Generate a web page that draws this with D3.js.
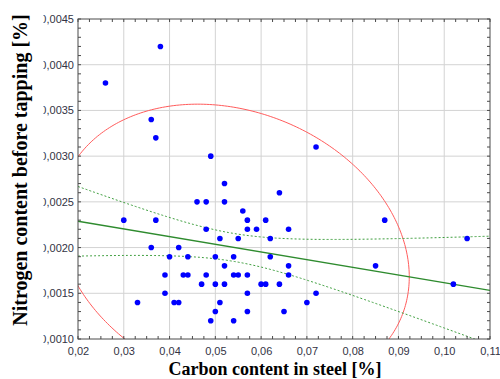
<!DOCTYPE html>
<html>
<head>
<meta charset="utf-8">
<script src="https://cdn.jsdelivr.net/npm/d3@7"></script>
<style>
  body { margin: 0; background: #fff; }
  svg { display: block; }
</style>
</head>
<body>
<div id="chart"></div>
<script>
// carbon content [%] and nitrogen content before tapping [%], one pair per heat
var carbon = [
  0.026, 0.038, 0.036, 0.037, 0.049, 0.052, 0.072, 0.030, 0.037, 0.036,
  0.033, 0.039, 0.039, 0.040, 0.042, 0.041, 0.042, 0.043, 0.044, 0.044,
  0.046, 0.048, 0.048, 0.047, 0.048, 0.049, 0.050, 0.050, 0.050, 0.051,
  0.051, 0.052, 0.052, 0.052, 0.054, 0.054, 0.055, 0.055, 0.054, 0.056,
  0.057, 0.057, 0.057, 0.057, 0.057, 0.064, 0.061, 0.059, 0.066, 0.062,
  0.087, 0.105, 0.062, 0.085, 0.066, 0.066, 0.060, 0.061, 0.064, 0.072,
  0.070, 0.065, 0.102
];
var nitrogen = [
  0.0038, 0.0042, 0.0034, 0.0032, 0.0030, 0.0027, 0.0031, 0.0023, 0.0023, 0.0020,
  0.0014, 0.0017, 0.0015, 0.0019, 0.0020, 0.0014, 0.0014, 0.0017, 0.0017, 0.0019,
  0.0025, 0.0025, 0.0022, 0.0016, 0.0017, 0.0012, 0.0019, 0.0016, 0.0013, 0.0021,
  0.0014, 0.0025, 0.0018, 0.0016, 0.0019, 0.0017, 0.0017, 0.0021, 0.0012, 0.0024,
  0.0023, 0.0022, 0.0017, 0.0015, 0.0013, 0.0026, 0.0023, 0.0022, 0.0022, 0.0021,
  0.0023, 0.0021, 0.0019, 0.0018, 0.0018, 0.0017, 0.0016, 0.0016, 0.0016, 0.0015,
  0.0014, 0.0013, 0.0016
];
var xTicks = [0.02, 0.03, 0.04, 0.05, 0.06, 0.07, 0.08, 0.09, 0.10, 0.11];
var yTicks = [0.0010, 0.0015, 0.0020, 0.0025, 0.0030, 0.0035, 0.0040, 0.0045];

var W = 500, H = 379;
var margin = {top: 19, right: 10, bottom: 40, left: 78};
var width = W - margin.left - margin.right,
    height = H - margin.top - margin.bottom;

var x = d3.scaleLinear().domain([0.02, 0.11]).range([0, width]);
var y = d3.scaleLinear().domain([0.0010, 0.0045]).range([height, 0]);

var svg = d3.select("#chart").append("svg")
    .attr("width", W)
    .attr("height", H);

var defs = svg.append("defs");
defs.append("clipPath").attr("id", "plotclip")
  .append("rect").attr("width", width).attr("height", height);
defs.append("clipPath").attr("id", "labelclip")
  .append("rect").attr("x", 43.5).attr("y", 0).attr("width", W).attr("height", H);

var g = svg.append("g")
    .attr("transform", "translate(" + margin.left + "," + margin.top + ")");

// grid
g.append("g").selectAll("line")
  .data(xTicks.slice(1, -1))
  .enter().append("line")
    .attr("x1", function(d) { return x(d); })
    .attr("x2", function(d) { return x(d); })
    .attr("y1", 0).attr("y2", height)
    .attr("stroke", "#d3d3d3");
g.append("g").selectAll("line")
  .data(yTicks.slice(1, -1))
  .enter().append("line")
    .attr("y1", function(d) { return y(d); })
    .attr("y2", function(d) { return y(d); })
    .attr("x1", 0).attr("x2", width)
    .attr("stroke", "#d3d3d3");

// statistics
var n = carbon.length;
var mx = d3.mean(carbon), my = d3.mean(nitrogen);
var sxx = 0, syy = 0, sxy = 0;
for (var i = 0; i < n; i++) {
  sxx += (carbon[i] - mx) * (carbon[i] - mx);
  syy += (nitrogen[i] - my) * (nitrogen[i] - my);
  sxy += (carbon[i] - mx) * (nitrogen[i] - my);
}
var b = sxy / sxx, a = my - b * mx;
var sse = 0;
for (var i = 0; i < n; i++) {
  var r = nitrogen[i] - (a + b * carbon[i]);
  sse += r * r;
}
var s = Math.sqrt(sse / (n - 2));
var t = 2.0;

var plot = g.append("g").attr("clip-path", "url(#plotclip)");

// 95% ellipse
var sdx = Math.sqrt(sxx / (n - 1)), sdy = Math.sqrt(syy / (n - 1));
var rho = sxy / Math.sqrt(sxx * syy);
var k = 2.55;
var ell = d3.range(0, 361).map(function(deg) {
  var th = deg * Math.PI / 180;
  return [mx + k * sdx * Math.cos(th),
          my + k * sdy * (rho * Math.cos(th) + Math.sqrt(1 - rho * rho) * Math.sin(th))];
});
plot.append("path")
    .datum(ell)
    .attr("fill", "none")
    .attr("stroke", "#ff5c5c")
    .attr("stroke-width", 1)
    .attr("d", d3.line().x(function(d) { return x(d[0]); }).y(function(d) { return y(d[1]); }));

// confidence bands
var xs = d3.range(0, 201).map(function(j) { return 0.02 + j * 0.09 / 200; });
function band(sign) {
  return xs.map(function(xv) {
    var h = t * s * Math.sqrt(1 / n + (xv - mx) * (xv - mx) / sxx);
    return [xv, a + b * xv + sign * h];
  });
}
var line = d3.line().x(function(d) { return x(d[0]); }).y(function(d) { return y(d[1]); });
[1, -1].forEach(function(sg) {
  plot.append("path")
      .datum(band(sg))
      .attr("fill", "none")
      .attr("stroke", "#3f9f3f")
      .attr("stroke-width", 1)
      .attr("stroke-dasharray", "2,2")
      .attr("d", line);
});

// regression line
plot.append("path")
    .datum([[0.02, a + b * 0.02], [0.11, a + b * 0.11]])
    .attr("fill", "none")
    .attr("stroke", "#2e8b2e")
    .attr("stroke-width", 1.4)
    .attr("d", line);

// points
g.append("g").selectAll("circle")
  .data(d3.range(n))
  .enter().append("circle")
    .attr("cx", function(i) { return x(carbon[i]); })
    .attr("cy", function(i) { return y(nitrogen[i]); })
    .attr("r", 2.8)
    .attr("fill", "#0000ff");

// frame
g.append("rect")
    .attr("width", width).attr("height", height)
    .attr("fill", "none")
    .attr("stroke", "#4a4a4a");

// inner ticks on all four sides
var xMinor = d3.range(0, 37).map(function(j) { return 0.02 + j * 0.0025; });
var yMinor = d3.range(0, 36).map(function(j) { return 0.0010 + j * 0.0001; });
var tk = g.append("g").attr("stroke", "#4a4a4a");
xMinor.forEach(function(v) {
  tk.append("line").attr("x1", x(v)).attr("x2", x(v)).attr("y1", 0).attr("y2", 3);
  tk.append("line").attr("x1", x(v)).attr("x2", x(v)).attr("y1", height).attr("y2", height - 3);
});
yMinor.forEach(function(v) {
  tk.append("line").attr("y1", y(v)).attr("y2", y(v)).attr("x1", 0).attr("x2", 3);
  tk.append("line").attr("y1", y(v)).attr("y2", y(v)).attr("x1", width).attr("x2", width - 3);
});

// tick labels
var xAxis = d3.axisBottom(x).tickValues(xTicks).tickSize(0).tickPadding(8)
    .tickFormat(function(d) { return d3.format(".2f")(d).replace(".", ","); });
var yAxis = d3.axisLeft(y).tickValues(yTicks).tickSize(0).tickPadding(4)
    .tickFormat(function(d) { return d3.format(".4f")(d).replace(".", ","); });

g.append("g")
    .attr("transform", "translate(0," + height + ")")
    .call(xAxis)
    .call(function(ax) { ax.select(".domain").remove(); })
    .selectAll("text")
    .attr("font-family", "Liberation Sans, Arial, sans-serif")
    .attr("font-size", 11)
    .attr("fill", "#333344");

svg.append("g").attr("clip-path", "url(#labelclip)")
  .append("g")
    .attr("transform", "translate(" + margin.left + "," + margin.top + ")")
    .call(yAxis)
    .call(function(ax) { ax.select(".domain").remove(); })
    .selectAll("text")
    .attr("font-family", "Liberation Sans, Arial, sans-serif")
    .attr("font-size", 11)
    .attr("fill", "#333344");

// axis titles
svg.append("text")
    .attr("x", 275)
    .attr("y", 375)
    .attr("text-anchor", "middle")
    .attr("font-family", "Liberation Serif, Times New Roman, serif")
    .attr("font-weight", "bold")
    .attr("font-size", 18)
    .attr("fill", "#000")
    .text("Carbon content in steel [%]");

svg.append("text")
    .attr("transform", "translate(27,170) rotate(-90)")
    .attr("text-anchor", "middle")
    .attr("font-family", "Liberation Serif, Times New Roman, serif")
    .attr("font-weight", "bold")
    .attr("font-size", 20)
    .attr("fill", "#000")
    .text("Nitrogen content before tapping [%]");
</script>
</body>
</html>
